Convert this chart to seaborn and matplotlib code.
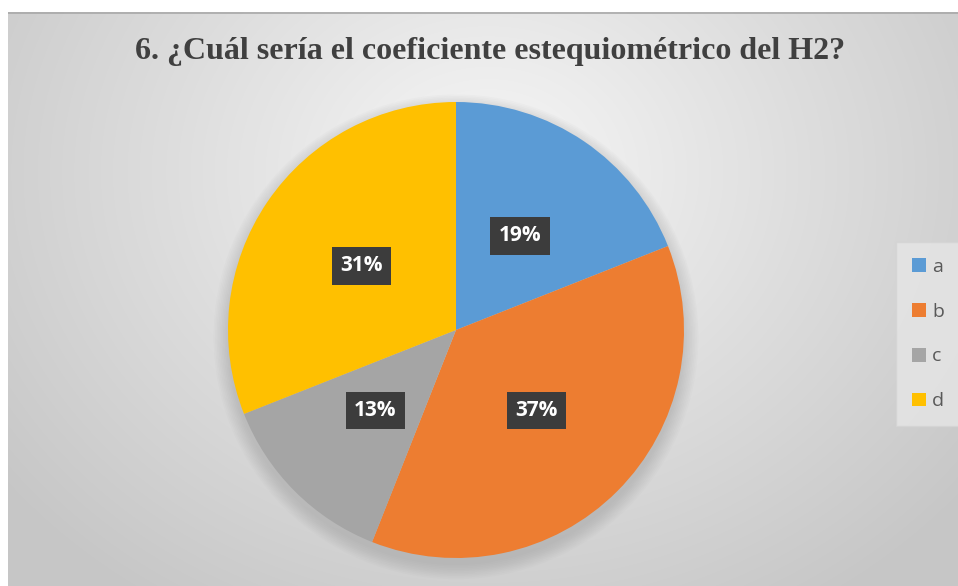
import numpy as np
import matplotlib
matplotlib.use("Agg")
import matplotlib.pyplot as plt
from matplotlib.colors import LinearSegmentedColormap
from matplotlib.patches import Patch, Circle
import seaborn as sns

# ---- data ----
categories = ["a", "b", "c", "d"]
percentages = [19, 37, 13, 31]
colors = ["#5B9BD5", "#ED7D31", "#A5A5A5", "#FFC000"]
title = "6. ¿Cuál sería el coeficiente estequiométrico del H2?"

sns.set_theme(style="white")
plt.rcParams['font.family'] = ['DejaVu Sans']

W, H = 958, 586
fig = plt.figure(figsize=(W / 100, H / 100), dpi=100)
fig.patch.set_facecolor("white")

# ---- background with radial gradient ----
fx0, fy0, fw, fh = 8, 12, 950, 574
bg = fig.add_axes([fx0 / W, 0, fw / W, fh / H])
yy, xx = np.mgrid[0:fh, 0:fw]
cx, cy = 480, 160
d = np.sqrt(((xx - cx) / 620.0) ** 2 + ((yy - cy) / 520.0) ** 2)
d = np.clip(d, 0, 1)
cmap = LinearSegmentedColormap.from_list("bg", ["#f7f7f7", "#dedede", "#c6c6c6"])
bg.imshow(d, cmap=cmap, aspect="auto", extent=(0, fw, fh, 0), vmin=0, vmax=1)
bg.plot([0, fw], [0.5, 0.5], color="#a8a8a8", lw=1.2)
bg.set_xlim(0, fw)
bg.set_ylim(fh, 0)
bg.axis("off")

# ---- pie ----
pcx, pcy, r = 456, 330, 228
ax = fig.add_axes([(pcx - r) / W, (H - pcy - r) / H, 2 * r / W, 2 * r / H])
ax.set_xlim(-1, 1)
ax.set_ylim(-1, 1)
ax.set_aspect("equal")
ax.axis("off")

# soft shadow
for i in range(10):
    ax.add_patch(Circle((0.0, -0.03), 1.0 + 0.007 * i, color="#808080",
                        alpha=0.03, lw=0, zorder=0, clip_on=False))

wedges, texts, autotexts = ax.pie(
    percentages, colors=colors, startangle=90, counterclock=False,
    autopct=lambda p: f"{p:.0f}%", pctdistance=0.5, radius=1.0,
    wedgeprops=dict(linewidth=0, edgecolor="none"),
    textprops=dict(color="white", fontsize=15, fontweight="bold",
                   family="Open Sans"))
for w in wedges:
    w.set_zorder(2)
for t in autotexts:
    t.set_zorder(5)
    t.set_bbox(dict(boxstyle="square,pad=0.4", fc="#3c3c3c", ec="none"))
ax.set_xlim(-1, 1)
ax.set_ylim(-1, 1)

# ---- title ----
fig.text(490 / W, 1 - 51 / H, title, ha="center", va="center",
         fontsize=23, fontweight="bold", family="Liberation Serif",
         color="#404040")

# ---- legend ----
handles = [Patch(facecolor=c, edgecolor="none", label=l)
           for c, l in zip(colors, categories)]
leg = fig.legend(handles=handles, loc="center", bbox_to_anchor=(928 / W, 1 - 334 / H),
                 frameon=True, handlelength=0.72, handleheight=0.72,
                 handletextpad=0.35, labelspacing=1.38, borderpad=0.5,
                 prop=dict(family="Open Sans", size=14))
leg.get_frame().set_facecolor("#e6e6e6")
leg.get_frame().set_edgecolor("#d4d4d4")
leg.get_frame().set_boxstyle("square")
for t in leg.get_texts():
    t.set_color("#595959")

fig.savefig("out.png", dpi=100)
